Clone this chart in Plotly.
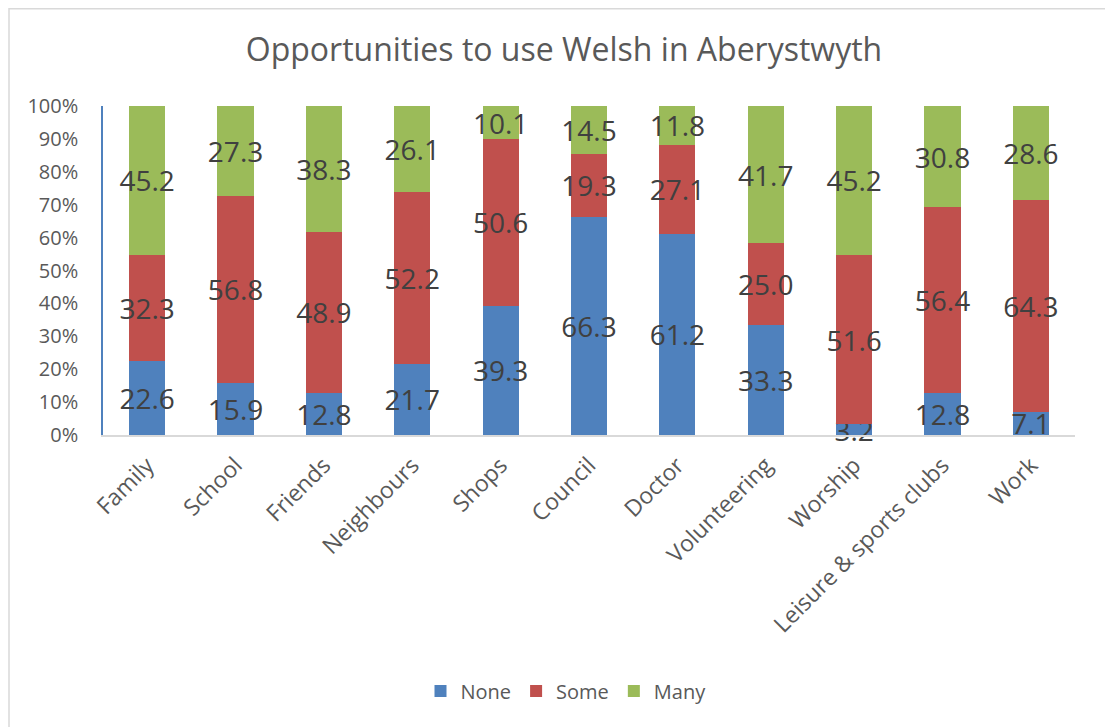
import plotly.graph_objects as go

categories = ["Family", "School", "Friends", "Neighbours", "Shops", "Council",
              "Doctor", "Volunteering", "Worship", "Leisure & sports clubs", "Work"]
none_vals = [22.6, 15.9, 12.8, 21.7, 39.3, 66.3, 61.2, 33.3, 3.2, 12.8, 7.1]
some_vals = [32.3, 56.8, 48.9, 52.2, 50.6, 19.3, 27.1, 25.0, 51.6, 56.4, 64.3]
many_vals = [45.2, 27.3, 38.3, 26.1, 10.1, 14.5, 11.8, 41.7, 45.2, 30.8, 28.6]

series = [("None", none_vals, "#4F81BD"),
          ("Some", some_vals, "#C0504D"),
          ("Many", many_vals, "#9BBB59")]

FONT = "'Open Sans', sans-serif"

fig = go.Figure()
for name, vals, color in series:
    fig.add_trace(go.Bar(
        name=name, x=categories, y=vals,
        marker=dict(color=color, line=dict(width=0)),
        text=[f"{v:.1f}" for v in vals],
        textposition="inside", insidetextanchor="middle",
        constraintext="none", textangle=0,
        textfont=dict(size=28, color="#404040", family=FONT),
        cliponaxis=False,
    ))

# page body has an 8px margin; figure is sized to fit the 1113x727 window
W, H = 1105, 719
L, R, T, B = 95, 38, 98, 292
pw = W - L - R
ph = H - T - B

fig.update_layout(
    width=W, height=H,
    barmode="stack", barnorm="percent", bargap=0.59,
    margin=dict(l=L, r=R, t=T, b=B, autoexpand=False),
    paper_bgcolor="white", plot_bgcolor="white",
    font=dict(family=FONT, color="#595959"),
    title=dict(text="Opportunities to use Welsh in Aberystwyth",
               x=(564 - 8) / W, xanchor="center", y=1 - 42 / H, yanchor="middle",
               font=dict(size=32, color="#595959", family=FONT)),
    legend=dict(orientation="h", x=(566 - 8 - L) / pw, xanchor="center",
                y=(T + ph - 683) / ph, yanchor="middle",
                font=dict(size=20, color="#595959", family=FONT),
                itemwidth=30, traceorder="normal"),
    xaxis=dict(showgrid=False, showline=True, linecolor="#D9D9D9", linewidth=1.5,
               tickangle=-45, tickfont=dict(size=23, color="#595959", family=FONT),
               ticks="outside", ticklen=6, tickcolor="rgba(0,0,0,0)"),
    yaxis=dict(range=[0, 100], dtick=10, ticksuffix="%", showgrid=False,
               showline=True, linecolor="#4F81BD", linewidth=1.5,
               tickfont=dict(size=20, color="#595959", family=FONT),
               ticks="outside", ticklen=19, tickcolor="rgba(0,0,0,0)",
               zeroline=False),
    shapes=[dict(type="rect", xref="paper", yref="paper",
                 x0=(1 - L) / pw, x1=(W + 20 - L) / pw,
                 y0=(T + ph - (H + 20)) / ph, y1=(T + ph - 0.8) / ph,
                 line=dict(color="#D9D9D9", width=1.5), fillcolor="rgba(0,0,0,0)",
                 layer="below")],
)

fig.write_html("out.html")
